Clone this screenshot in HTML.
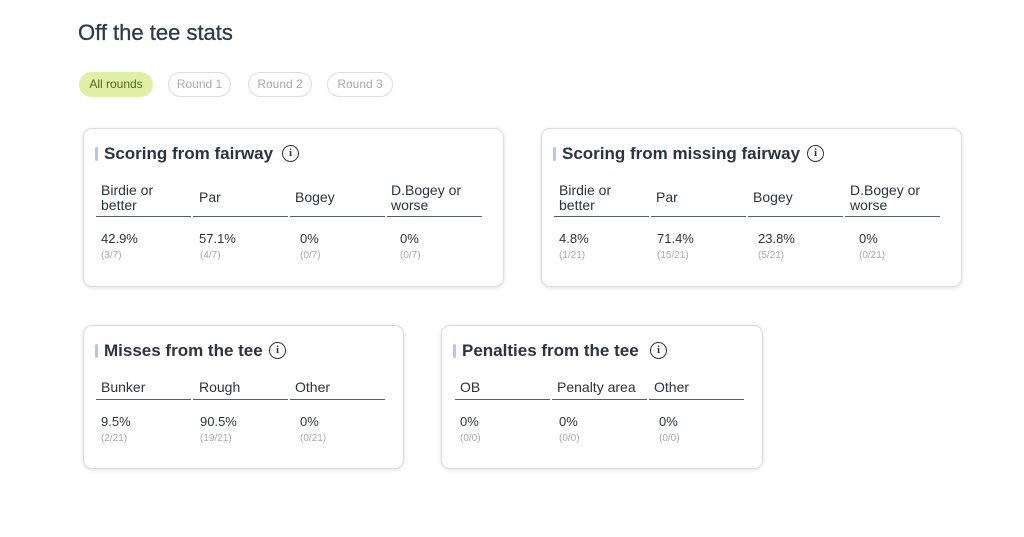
<!DOCTYPE html>
<html><head><meta charset="utf-8"><style>
*{margin:0;padding:0;box-sizing:border-box}
body{width:1024px;height:537px;background:#fff;font-family:"Liberation Sans",sans-serif;color:#2b3340;position:relative;overflow:hidden}
h1{position:absolute;left:78px;top:20px;font-size:22px;font-weight:normal;color:#2d3a4a;-webkit-text-stroke:0.3px #2d3a4a}
.pill{position:absolute;top:72px;height:25px;border:1px solid #ddd;border-radius:13px;font-size:12px;color:#aaa;text-align:center;line-height:23px}
.card{position:absolute;border:1px solid #dcdcdc;border-radius:9px;box-shadow:0 1px 4px rgba(0,0,0,.12);background:#fff}
.t{position:absolute;font-size:17px;font-weight:bold;color:#2b3340;white-space:nowrap}
.bar{position:absolute;width:3px;height:14px;background:#b4c4f6;border-radius:2px}
.i{position:absolute;width:17px;height:17px;border:1.5px solid #333;border-radius:50%;font-size:11px;font-weight:bold;text-align:center;line-height:14px;font-family:"Liberation Serif",serif}
.h{position:absolute;font-size:14px;line-height:15px;color:#2b3340;white-space:nowrap}
.ln{position:absolute;height:1px;background:#555e6a;width:95px}
.v{position:absolute;font-size:13px;color:#2b3340}
.s{position:absolute;font-size:10px;color:#aaa}
</style></head><body>
<h1>Off the tee stats</h1>
<div class="pill" style="left:79px;width:74px;background:#dff0a4;border-color:#dff0a4;color:#4d6a1c">All rounds</div>
<div class="pill" style="left:168px;width:63px">Round 1</div>
<div class="pill" style="left:248px;width:64px">Round 2</div>
<div class="pill" style="left:327px;width:66px">Round 3</div>

<div class="card" style="left:83px;top:128px;width:421px;height:159px"></div>
<div class="card" style="left:541px;top:128px;width:421px;height:159px"></div>
<div class="card" style="left:83px;top:325px;width:321px;height:144px"></div>
<div class="card" style="left:441px;top:325px;width:322px;height:144px"></div>

<div class="bar" style="left:95px;top:147px"></div><div class="t" style="left:104px;top:144px">Scoring from fairway</div><div class="i" style="left:282px;top:145px">i</div>
<div class="bar" style="left:553px;top:147px"></div><div class="t" style="left:562px;top:144px">Scoring from missing fairway</div><div class="i" style="left:807px;top:145px">i</div>
<div class="bar" style="left:95px;top:344px"></div><div class="t" style="left:104px;top:341px">Misses from the tee</div><div class="i" style="left:269px;top:342px">i</div>
<div class="bar" style="left:453px;top:344px"></div><div class="t" style="left:462px;top:341px">Penalties from the tee</div><div class="i" style="left:650px;top:342px">i</div>

<div class="h" style="left:101px;top:183px">Birdie or<br>better</div>
<div class="h" style="left:199px;top:190px">Par</div>
<div class="h" style="left:295px;top:190px">Bogey</div>
<div class="h" style="left:391px;top:183px">D.Bogey or<br>worse</div>
<div class="ln" style="left:96px;top:216px"></div><div class="ln" style="left:193px;top:216px"></div><div class="ln" style="left:290px;top:216px"></div><div class="ln" style="left:387px;top:216px"></div>
<div class="v" style="left:101px;top:231px">42.9%</div><div class="v" style="left:199px;top:231px">57.1%</div><div class="v" style="left:300px;top:231px">0%</div><div class="v" style="left:400px;top:231px">0%</div>
<div class="s" style="left:101px;top:250px">(3/7)</div><div class="s" style="left:200px;top:250px">(4/7)</div><div class="s" style="left:300px;top:250px">(0/7)</div><div class="s" style="left:400px;top:250px">(0/7)</div>

<div class="h" style="left:559px;top:183px">Birdie or<br>better</div>
<div class="h" style="left:656px;top:190px">Par</div>
<div class="h" style="left:753px;top:190px">Bogey</div>
<div class="h" style="left:850px;top:183px">D.Bogey or<br>worse</div>
<div class="ln" style="left:554px;top:216px"></div><div class="ln" style="left:651px;top:216px"></div><div class="ln" style="left:748px;top:216px"></div><div class="ln" style="left:845px;top:216px"></div>
<div class="v" style="left:559px;top:231px">4.8%</div><div class="v" style="left:657px;top:231px">71.4%</div><div class="v" style="left:758px;top:231px">23.8%</div><div class="v" style="left:859px;top:231px">0%</div>
<div class="s" style="left:559px;top:250px">(1/21)</div><div class="s" style="left:657px;top:250px">(15/21)</div><div class="s" style="left:758px;top:250px">(5/21)</div><div class="s" style="left:859px;top:250px">(0/21)</div>

<div class="h" style="left:101px;top:380px">Bunker</div>
<div class="h" style="left:199px;top:380px">Rough</div>
<div class="h" style="left:295px;top:380px">Other</div>
<div class="ln" style="left:96px;top:399px"></div><div class="ln" style="left:193px;top:399px"></div><div class="ln" style="left:290px;top:399px"></div>
<div class="v" style="left:101px;top:414px">9.5%</div><div class="v" style="left:200px;top:414px">90.5%</div><div class="v" style="left:300px;top:414px">0%</div>
<div class="s" style="left:101px;top:433px">(2/21)</div><div class="s" style="left:200px;top:433px">(19/21)</div><div class="s" style="left:300px;top:433px">(0/21)</div>

<div class="h" style="left:460px;top:380px">OB</div>
<div class="h" style="left:557px;top:380px">Penalty area</div>
<div class="h" style="left:654px;top:380px">Other</div>
<div class="ln" style="left:455px;top:399px"></div><div class="ln" style="left:552px;top:399px"></div><div class="ln" style="left:649px;top:399px"></div>
<div class="v" style="left:460px;top:414px">0%</div><div class="v" style="left:559px;top:414px">0%</div><div class="v" style="left:659px;top:414px">0%</div>
<div class="s" style="left:460px;top:433px">(0/0)</div><div class="s" style="left:559px;top:433px">(0/0)</div><div class="s" style="left:659px;top:433px">(0/0)</div>
</body></html>
